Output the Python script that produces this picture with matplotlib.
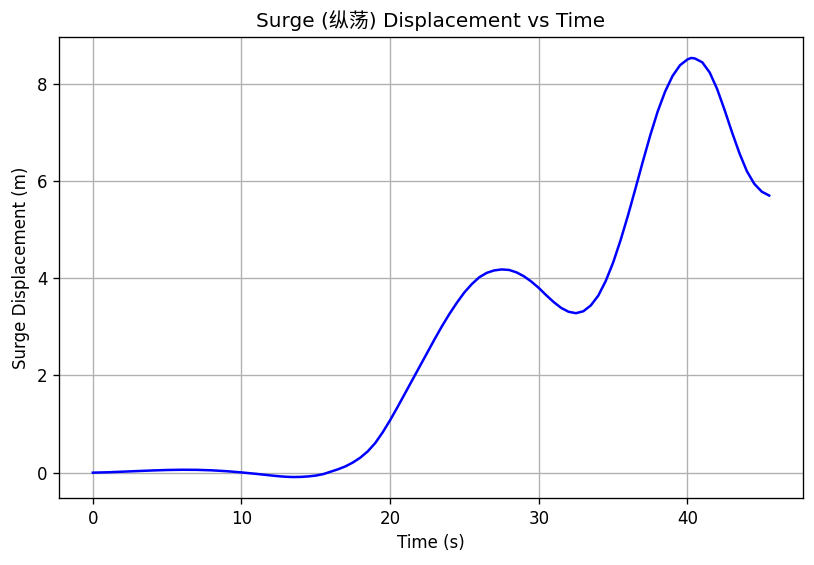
import matplotlib
matplotlib.use("Agg")
import matplotlib.pyplot as plt

plt.rcParams['font.family'] = ['DejaVu Sans', 'Noto Sans CJK SC']

# values
time_s = [0, 1, 2, 3, 4, 5, 6, 7, 8, 9, 10, 11, 12, 12.5, 13, 13.5, 14, 14.5,
          15, 15.5, 16, 16.5, 17, 17.5, 18, 18.5, 19, 19.5, 20, 20.5, 21,
          21.5, 22, 22.5, 23, 23.5, 24, 24.5, 25, 25.5, 26, 26.5, 27, 27.5,
          28, 28.5, 29, 29.5, 30, 30.5, 31, 31.5, 32, 32.5, 33, 33.5, 34,
          34.5, 35, 35.5, 36, 36.5, 37, 37.5, 38, 38.5, 39, 39.5, 40, 40.25,
          40.5, 41, 41.5, 42, 42.5, 43, 43.5, 44, 44.5, 45, 45.5]
surge_m = [0.0, 0.008, 0.02, 0.033, 0.045, 0.055, 0.06, 0.058, 0.048, 0.03,
           0.005, -0.025, -0.058, -0.073, -0.085, -0.09, -0.087, -0.077,
           -0.06, -0.03, 0.02, 0.07, 0.13, 0.21, 0.31, 0.44, 0.61, 0.83,
           1.08, 1.35, 1.63, 1.91, 2.19, 2.47, 2.75, 3.02, 3.27, 3.50, 3.71,
           3.88, 4.02, 4.11, 4.16, 4.18, 4.17, 4.12, 4.04, 3.93, 3.80, 3.65,
           3.51, 3.39, 3.31, 3.28, 3.32, 3.44, 3.64, 3.94, 4.32, 4.78, 5.29,
           5.84, 6.40, 6.94, 7.43, 7.84, 8.16, 8.38, 8.50, 8.53, 8.52, 8.44,
           8.23, 7.89, 7.46, 7.00, 6.57, 6.20, 5.94, 5.78, 5.70]

fig, ax = plt.subplots(figsize=(814 / 120, 565 / 120), dpi=120)
fig.subplots_adjust(left=0.0725, right=0.9865, top=0.9345, bottom=0.1186)

ax.plot(time_s, surge_m, color="blue", linewidth=1.5)
ax.set_xlabel("Time (s)")
ax.set_ylabel("Surge Displacement (m)")
ax.set_title("Surge (纵荡) Displacement vs Time")
ax.grid(True)

fig.savefig("out.png")
